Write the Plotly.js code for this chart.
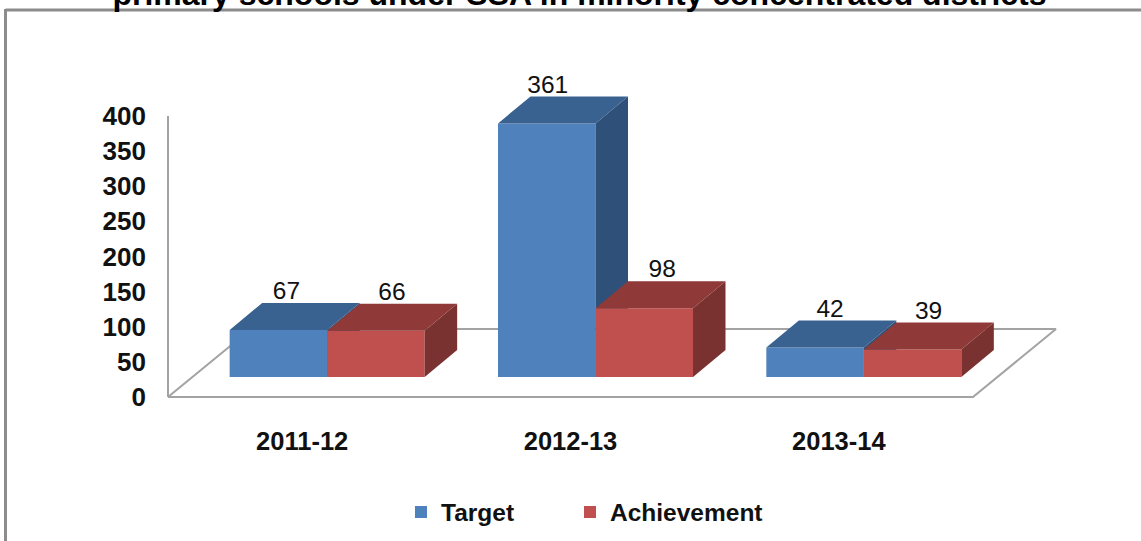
<!DOCTYPE html>
<html><head><meta charset="utf-8">
<script src="https://cdn.plot.ly/plotly-3.0.1.min.js"></script>
<style>html,body{margin:0;padding:0;background:#fff;overflow:hidden}#c{width:1141px;height:541px}</style>
</head><body><div id="c"></div>
<script>
const categories = ["2011-12","2012-13","2013-14"];
const target = [67,361,42];
const achievement = [66,98,39];
const yTicks = [0,50,100,150,200,250,300,350,400];
const titleText = "primary schools under SSA in minority concentrated districts";
const targetLabelNudge = [8,1,15];
const achievementLabelNudge = [16,18,16];

const W = 1141, H = 541;
const pxX = 268.33, pxY = 281/400;
const plotL = 158, plotR = 1070, plotT = 40, plotB = 402, zeroX = 168, zeroY = 397;
const dx = 32.5/pxX, dy = 27/pxY;
const baseLift = 20/pxY, barShift = 25/pxX, barW = 97.5/pxX;
const labelLift = 37/pxY;
const FONT = "Liberation Sans, Arial, sans-serif";
const xr = [-0.5-(zeroX-plotL)/pxX, -0.5+(plotR-zeroX)/pxX];
const yr = [-(plotB-zeroY)/pxY, (zeroY-plotT)/pxY];
const xd = [plotL/W, plotR/W], yd = [1-plotB/H, 1-plotT/H];

function faces(vals, side){
  const top={x:[],y:[]}, right={x:[],y:[]}, xs=[];
  vals.forEach((v,i)=>{
    const l = i+barShift+(side<0?-barW:0), r = l+barW, b = baseLift, t = b+v;
    top.x.push(l,r,r+dx,l+dx,l,null); top.y.push(t,t,t+dy,t+dy,t,null);
    right.x.push(r,r+dx,r+dx,r,r,null); right.y.push(b,b+dy,t+dy,t,b,null);
    xs.push(l+barW/2);
  });
  return {top,right,xs};
}
function poly(f,color,xa,ya){
  return {type:"scatter",mode:"lines",x:f.x,y:f.y,fill:"toself",fillcolor:color,
    line:{width:0,color:color},showlegend:false,hoverinfo:"skip",xaxis:xa,yaxis:ya};
}
const T = faces(target,-1), A = faces(achievement,1);
const floorX = [-0.5,2.5,2.5+83/pxX,-0.5+83/pxX,-0.5];
const floorY = [0,0,68/pxY,68/pxY,0];

const traces = [
  {type:"scatter",mode:"lines",x:floorX,y:floorY,line:{color:"#a3a3a3",width:2},
   showlegend:false,hoverinfo:"skip",xaxis:"x",yaxis:"y"},
  {type:"scatter",mode:"lines",x:[-0.5,-0.5],y:[0,yTicks[yTicks.length-1]],line:{color:"#a3a3a3",width:2},
   showlegend:false,hoverinfo:"skip",xaxis:"x",yaxis:"y"},
  {type:"bar",name:"Target",legend:"legend",x:T.xs,y:target,base:target.map(()=>baseLift),width:barW,
   marker:{color:"#4f81bd",line:{width:0}},xaxis:"x2",yaxis:"y2"},
  poly(T.right,"#2f5078","x2","y2"),
  poly(T.top,"#3a6291","x2","y2"),
  {type:"bar",name:"Achievement",legend:"legend2",x:A.xs,y:achievement,base:achievement.map(()=>baseLift),width:barW,
   marker:{color:"#c0504d",line:{width:0}},xaxis:"x3",yaxis:"y3"},
  poly(A.right,"#7a3231","x3","y3"),
  poly(A.top,"#8f3a38","x3","y3"),
  {type:"scatter",mode:"text",
   x:T.xs.map((x,i)=>x+targetLabelNudge[i]/pxX).concat(A.xs.map((x,i)=>x+achievementLabelNudge[i]/pxX)),
   y:target.concat(achievement).map(v=>baseLift+v+labelLift),
   text:target.concat(achievement).map(String),textposition:"middle center",
   textfont:{family:FONT,size:24.5,color:"#111"},showlegend:false,hoverinfo:"skip",xaxis:"x3",yaxis:"y3",cliponaxis:false}
];

const legendBase = {orientation:"h",xanchor:"left",y:1-512/H,yanchor:"middle",bgcolor:"rgba(0,0,0,0)",
  font:{family:FONT,size:24.5,color:"#111",weight:"bold"},itemclick:false,itemdoubleclick:false};

const layout = {
  width:W,height:H,autosize:false,
  paper_bgcolor:"#fff",plot_bgcolor:"rgba(0,0,0,0)",
  margin:{l:0,r:0,t:0,b:0,pad:0},
  barmode:"overlay",
  xaxis:{domain:xd,range:xr,tickmode:"array",tickvals:[0,1,2],ticktext:categories,showgrid:false,zeroline:false,showline:false,
    ticks:"",ticklabelstandoff:21,tickfont:{family:FONT,size:25.5,color:"#111",weight:"bold"},fixedrange:true},
  yaxis:{domain:yd,range:yr,tickmode:"array",tickvals:yTicks,ticktext:yTicks.map(String),showgrid:false,zeroline:false,showline:false,
    ticks:"",ticklabelstandoff:11,tickfont:{family:FONT,size:26,color:"#111",weight:"bold"},fixedrange:true},
  xaxis2:{domain:xd,range:xr,overlaying:"x",visible:false,fixedrange:true},
  yaxis2:{domain:yd,range:yr,overlaying:"y",visible:false,fixedrange:true},
  xaxis3:{domain:xd,range:xr,overlaying:"x",visible:false,fixedrange:true},
  yaxis3:{domain:yd,range:yr,overlaying:"y",visible:false,fixedrange:true},
  title:{text:titleText,font:{family:FONT,size:32,color:"#000",weight:"bold"},
    x:579.5/W,xanchor:"center",xref:"container",y:1-5/H,yanchor:"bottom",yref:"container",automargin:false},
  legend:Object.assign({},legendBase,{x:401/W}),
  legend2:Object.assign({},legendBase,{x:570/W}),
  shapes:[
    {type:"line",xref:"paper",yref:"paper",x0:5.5/W,x1:1,y0:1-10/H,y1:1-10/H,line:{color:"#8c8c8c",width:3},layer:"below"},
    {type:"line",xref:"paper",yref:"paper",x0:5.5/W,x1:5.5/W,y0:1-9/H,y1:0,line:{color:"#8c8c8c",width:3},layer:"below"}
  ]
};
Plotly.newPlot("c",traces,layout,{displayModeBar:false,staticPlot:true});
</script></body></html>
